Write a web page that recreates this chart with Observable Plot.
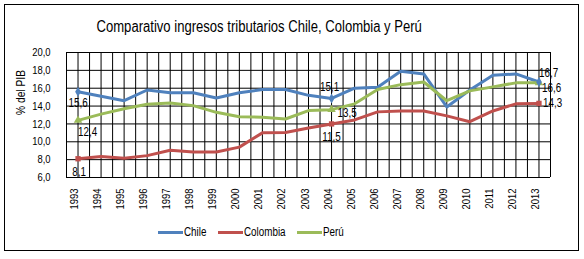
<!DOCTYPE html>
<html><head><meta charset="utf-8">
<script src="https://cdn.jsdelivr.net/npm/d3@7"></script>
<script src="https://cdn.jsdelivr.net/npm/@observablehq/plot@0.6"></script>
<style>
  body { margin:0; background:#fff; }
  #wrap { position:relative; width:584px; height:259px; font-family:"Liberation Sans",Arial,sans-serif; color:#000; }
  #frame { position:absolute; left:4px; top:4px; width:573px; height:245px; border:1.5px solid #000; }
  #title { position:absolute; left:0; top:19px; width:518px; text-align:center; font-size:16px; line-height:15px; white-space:nowrap; }
  #title span { display:inline-block; transform-origin:50% 50%; }
  #chart { position:absolute; left:0; top:0; }
  .leg { position:absolute; top:225px; font-size:12px; line-height:14px; display:flex; align-items:center; white-space:nowrap; }
  .sw { display:inline-block; width:25px; height:3px; margin-right:1px; }
  .lt { display:inline-block; transform:scaleX(0.82); transform-origin:0 50%; }
</style>
</head><body>
<div id="wrap">
  <div id="frame"></div>
  <div id="chart"></div>
  <div id="title"><span>Comparativo ingresos tributarios Chile, Colombia y Perú</span></div>
</div>
<script>
const years = [1993,1994,1995,1996,1997,1998,1999,2000,2001,2002,2003,2004,2005,2006,2007,2008,2009,2010,2011,2012,2013];
const chile    = [15.6,15.1,14.6,15.8,15.5,15.5,14.9,15.5,15.85,15.85,15.2,14.85,16.0,16.1,17.9,17.6,13.9,15.8,17.45,17.6,16.7];
const colombia = [8.1,8.35,8.15,8.45,9.05,8.85,8.85,9.4,11.0,11.05,11.55,12.0,12.45,13.35,13.45,13.45,12.9,12.25,13.45,14.25,14.3];
const peru     = [12.4,13.1,13.7,14.2,14.35,14.05,13.3,12.8,12.75,12.55,13.5,13.6,14.25,15.85,16.4,16.7,14.6,15.7,16.15,16.6,16.6];
const seriesNames = ["Chile","Colombia","Perú"];
const labelYears = [1993, 2004, 2013];
const chileLabels    = ["15,6","15,1","16,7"];
const colombiaLabels = ["8,1","11,5","14,3"];
const peruLabels     = ["12,4","13,5","16,6"];
const yTicks = [6,8,10,12,14,16,18,20];

const colors = {"Chile":"#4F81BD","Colombia":"#C0504D","Perú":"#9BBB59"};
const symbols = {"Chile":"diamond","Colombia":"square","Perú":"triangle"};
const valuesBy = {"Chile":chile,"Colombia":colombia,"Perú":peru};
const labelsBy = {"Chile":chileLabels,"Colombia":colombiaLabels,"Perú":peruLabels};

const rows = [];
for (const s of seriesNames) years.forEach((y,i)=>rows.push({series:s, year:y, value:valuesBy[s][i]}));

// label offsets (style, not data)
const off = {
  "Chile|1993":[0,11,"middle"], "Chile|2004":[-2,-11.5,"middle"], "Chile|2013":[0,-9,"start"],
  "Colombia|1993":[1,13,"middle"], "Colombia|2004":[0,13,"middle"], "Colombia|2013":[4,0,"start"],
  "Perú|1993":[0,12,"start"], "Perú|2004":[6,4,"start"], "Perú|2013":[3,5,"start"]
};
const labelMarks = [];
for (const s of seriesNames) labelYears.forEach((ly,k)=>{
  const i = years.indexOf(ly);
  const [dx,dy,anchor] = off[s+"|"+ly];
  labelMarks.push(Plot.text([{year:ly, value:valuesBy[s][i], t:labelsBy[s][k]}], {x:"year", y:"value", text:"t", dx, dy, textAnchor:anchor, fontSize:12, fill:"#000"}));
});

const gridX = [];
for (let i=0;i<=years.length;i++){ gridX.push(years[0]-0.5+i); if(i<years.length) gridX.push(years[0]+i); }

const fmt = d => d.toFixed(1).replace(".", ",");

const chart = Plot.plot({
  width:584, height:259,
  marginTop:52, marginBottom:82, marginLeft:66, marginRight:34,
  x:{domain:[years[0]-0.5, years[years.length-1]+0.5], axis:null},
  y:{domain:[6,20], axis:null},
  style:{fontFamily:'"Liberation Sans",Arial,sans-serif', fontSize:"11px", color:"#000", background:"transparent", overflow:"visible"},
  marks:[
    Plot.ruleX(gridX, {stroke:"#000", strokeWidth:1}),
    Plot.ruleY(yTicks, {stroke:"#000", strokeWidth:1}),
    Plot.text(yTicks, {y:d=>d, frameAnchor:"left", dx:-16, textAnchor:"end", text:fmt, fontSize:11.5, fill:"#000"}),
    Plot.text(years, {x:d=>d, frameAnchor:"bottom", dy:11, rotate:-90, textAnchor:"end", text:d=>String(d), fontSize:11.5, fill:"#000"}),
    Plot.text(["% del PIB"], {frameAnchor:"left", dx:-46, rotate:-90, fontSize:12.5, fill:"#000"}),
    Plot.line(rows, {x:"year", y:"value", z:"series", stroke:d=>colors[d.series], strokeWidth:3, curve:"linear"}),
    Plot.dot(rows.filter(d=>labelYears.includes(d.year)), {x:"year", y:"value", symbol:d=>symbols[d.series], fill:d=>colors[d.series], r:d=>d.series==="Perú"?5:4.5, stroke:"none"}),
    ...labelMarks
  ]
});
document.getElementById("chart").appendChild(chart);

// narrow the glyphs to mimic Arial Narrow
chart.querySelectorAll("text").forEach(t => {
  const L = t.getComputedTextLength();
  if (L > 0) { t.setAttribute("textLength", (L*0.82).toFixed(2)); t.setAttribute("lengthAdjust", "spacingAndGlyphs"); }
});

const ts = document.querySelector("#title span");
ts.style.transform = `scaleX(${325/ts.offsetWidth})`;

const legPos = {"Chile":158,"Colombia":218,"Perú":297};
const wrap = document.getElementById("wrap");
for (const s of seriesNames){
  const d = document.createElement("div");
  d.className = "leg"; d.style.left = legPos[s]+"px";
  d.innerHTML = `<span class="sw" style="background:${colors[s]}"></span><span class="lt">${s}</span>`;
  wrap.appendChild(d);
}
</script>
</body></html>
